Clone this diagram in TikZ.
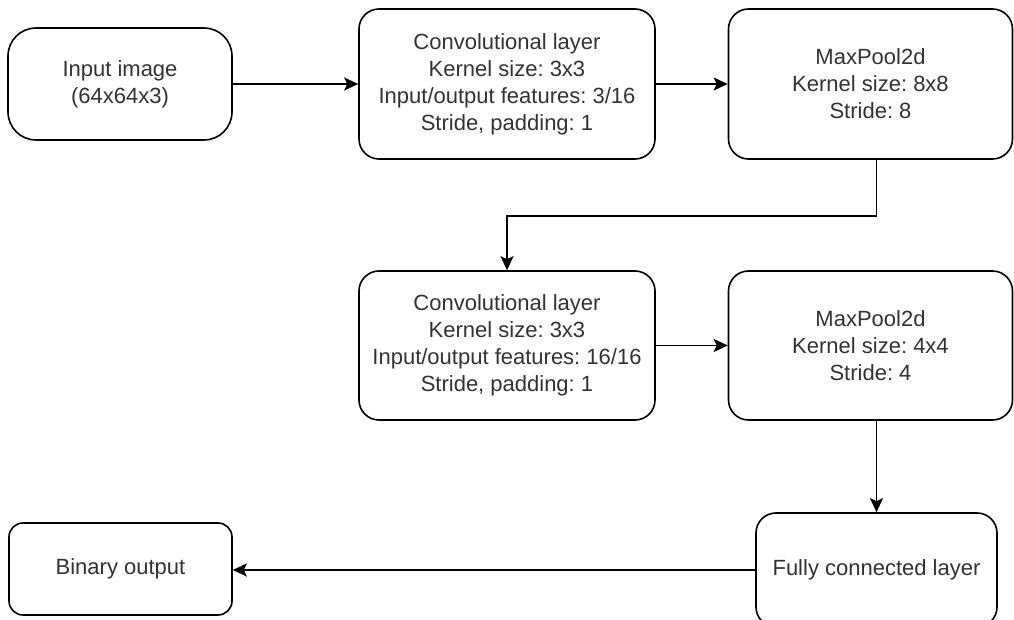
\documentclass[tikz,border=0pt]{standalone}
\usepackage{fontspec}
\setmainfont{Liberation Sans}
\usepackage{tikz}
\usetikzlibrary{arrows.meta}
\frenchspacing

\begin{document}
\begin{tikzpicture}[x=0.5pt,y=-0.5pt,line width=0.8pt,
  blk/.style n args={3}{draw,rounded corners=#3,minimum width=#1,minimum height=#2,align=center,inner sep=0pt,text=black!80,font=\fontsize{11}{13.5}\selectfont},
  arr/.style={-{Stealth[length=7pt,width=6.5pt,inset=1.5pt]}}]
\useasboundingbox (0,0) rectangle (1014,620);
% first row
\node[blk={112pt}{56pt}{14pt}] (inp) at (120,84) {Input image\\(64x64x3)};
\node[blk={148pt}{75pt}{10pt}] (conv1) at (507,84)
   {Convolutional layer\\Kernel size: 3x3\\Input/output features: 3/16\\Stride, padding: 1};
\node[blk={142pt}{75pt}{10pt}] (pool1) at (870.5,84) {MaxPool2d\\Kernel size: 8x8\\Stride: 8};
% second row
\node[blk={148pt}{74.5pt}{10pt}] (conv2) at (507,345.5)
   {Convolutional layer\\Kernel size: 3x3\\Input/output features: 16/16\\Stride, padding: 1};
\node[blk={142pt}{74.5pt}{10pt}] (pool2) at (870.5,345.5) {MaxPool2d\\Kernel size: 4x4\\Stride: 4};
% last row
\node[blk={120.5pt}{57pt}{10pt}] (fc) at (876.5,570) {Fully connected layer};
\node[blk={111.5pt}{46pt}{7pt}] (out) at (120.5,569) {Binary output};
% connectors
\draw[arr] (inp.east) -- (conv1.west);
\draw[arr] (conv1.east) -- (pool1.west);
\draw[arr] (pool1.south -| fc.north) -- ++(0,56) -| (conv2.north);
\draw[arr] (conv2.east) -- (pool2.west);
\draw[arr] (pool2.south -| fc.north) -- (fc.north);
\draw[arr] (fc.west) -- (fc.west -| out.east);
\end{tikzpicture}
\end{document}
